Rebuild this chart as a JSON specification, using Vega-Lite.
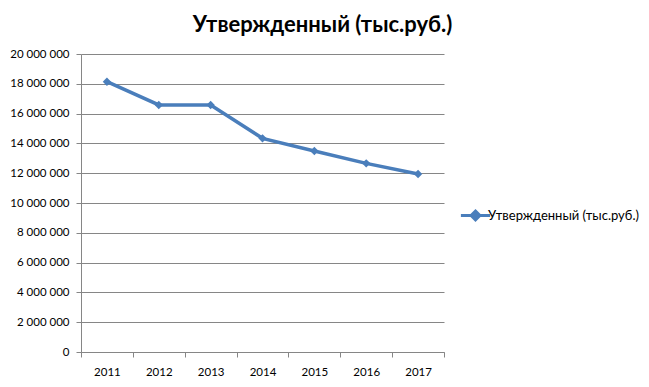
{
  "$schema": "https://vega.github.io/schema/vega-lite/v6.json",
  "width": 363,
  "height": 298,
  "autosize": {"type": "none"},
  "padding": {"left": 81, "top": 54, "right": 205, "bottom": 35},
  "background": "white",
  "title": {
    "text": "Утвержденный (тыс.руб.)",
    "font": "Lato",
    "fontSize": 22,
    "fontWeight": "bold",
    "color": "#000000",
    "anchor": "middle",
    "dx": 60,
    "offset": 11
  },
  "data": {
    "values": [
      {"year": "2011", "value": 18140000, "series": "Утвержденный (тыс.руб.)"},
      {"year": "2012", "value": 16580000, "series": "Утвержденный (тыс.руб.)"},
      {"year": "2013", "value": 16580000, "series": "Утвержденный (тыс.руб.)"},
      {"year": "2014", "value": 14340000, "series": "Утвержденный (тыс.руб.)"},
      {"year": "2015", "value": 13490000, "series": "Утвержденный (тыс.руб.)"},
      {"year": "2016", "value": 12660000, "series": "Утвержденный (тыс.руб.)"},
      {"year": "2017", "value": 11950000, "series": "Утвержденный (тыс.руб.)"}
    ]
  },
  "mark": {
    "type": "line",
    "strokeWidth": 3.5,
    "point": {"shape": "diamond", "filled": true, "size": 70, "opacity": 1}
  },
  "encoding": {
    "x": {
      "field": "year",
      "type": "ordinal",
      "title": null,
      "scale": {"paddingInner": 0, "paddingOuter": 0},
      "axis": {
        "labelAngle": 0,
        "labelFont": "Lato",
        "labelFontSize": 11.5,
        "labelColor": "#000000",
        "labelPadding": 9,
        "tickBand": "extent",
        "tickSize": 5,
        "tickColor": "#868686",
        "domainColor": "#868686",
        "grid": false
      }
    },
    "y": {
      "field": "value",
      "type": "quantitative",
      "title": null,
      "scale": {"domain": [0, 20000000], "nice": false},
      "axis": {
        "values": [0, 2000000, 4000000, 6000000, 8000000, 10000000, 12000000, 14000000, 16000000, 18000000, 20000000],
        "labelExpr": "replace(format(datum.value, ','), /,/g, ' ')",
        "labelFont": "Lato",
        "labelFontSize": 11.5,
        "labelColor": "#000000",
        "labelPadding": 7,
        "tickSize": 5,
        "tickColor": "#868686",
        "domainColor": "#868686",
        "grid": true,
        "gridColor": "#868686",
        "gridWidth": 1
      }
    },
    "color": {
      "field": "series",
      "type": "nominal",
      "scale": {"range": ["#4a7ebb"]},
      "legend": {
        "title": null,
        "orient": "none",
        "legendX": 383,
        "legendY": 150,
        "symbolType": "M-1.5,0L1.5,0M0,-0.45L0.45,0L0,0.45L-0.45,0Z",
        "symbolSize": 380,
        "symbolStrokeWidth": 3,
        "symbolFillColor": "#4a7ebb",
        "symbolStrokeColor": "#4a7ebb",
        "labelFont": "Lato",
        "labelFontSize": 13,
        "labelColor": "#000000",
        "labelOffset": 1
      }
    }
  },
  "config": {
    "view": {"stroke": null}
  }
}
